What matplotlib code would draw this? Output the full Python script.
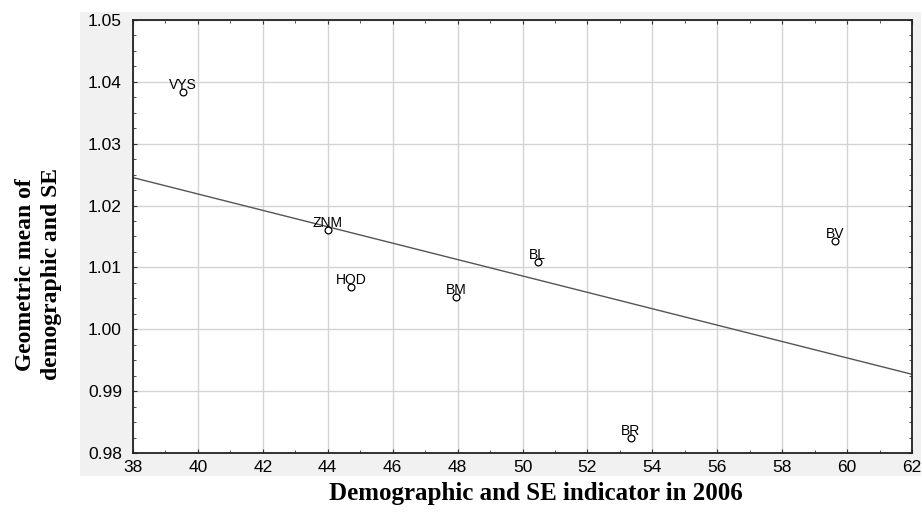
import matplotlib.pyplot as plt
import matplotlib.patches as mpatches
from matplotlib.ticker import MultipleLocator
import numpy as np

regions = ['VYS', 'ZNM', 'HOD', 'BM', 'BL', 'BR', 'BV']
indicator_2006 = [39.53, 44.0, 44.72, 47.95, 50.47, 53.33, 59.63]
geo_mean = [1.0384, 1.0161, 1.0069, 1.0053, 1.0108, 0.9824, 1.0142]

x = np.array(indicator_2006)
y = np.array(geo_mean)
slope, intercept = np.polyfit(x, y, 1)

fig = plt.figure(figsize=(9.22, 5.13), dpi=100)
# grey panel behind the plot area
fig.patches.append(mpatches.Rectangle((80 / 922, 1 - 476 / 513), 841 / 922, 464 / 513,
                                      transform=fig.transFigure, facecolor='#f1f1f1',
                                      edgecolor='none', zorder=-5))
ax = fig.add_axes([133 / 922, 1 - 453 / 513, 779 / 922, 433 / 513])
ax.set_facecolor('white')

ax.set_xlim(38, 62)
ax.set_ylim(0.98, 1.05)
ax.xaxis.set_major_locator(MultipleLocator(2))
ax.xaxis.set_minor_locator(MultipleLocator(1))
ax.yaxis.set_major_locator(MultipleLocator(0.01))
ax.yaxis.set_minor_locator(MultipleLocator(0.0025))
ax.yaxis.set_major_formatter(plt.FormatStrFormatter('%.2f'))
ax.grid(True, which='major', color='#d4d4d4', linewidth=1.0)
ax.set_axisbelow(True)
ax.tick_params(which='both', direction='in', top=True, right=True, colors='#333333',
               labelcolor='black', labelsize=12.5)
ax.tick_params(which='major', length=3)
ax.tick_params(which='minor', length=2)
ax.tick_params(axis='x', pad=5)
ax.tick_params(axis='y', pad=8)
for lbl in ax.get_xticklabels() + ax.get_yticklabels():
    lbl.set_family('Liberation Sans')
for s in ax.spines.values():
    s.set_linewidth(1.3)
    s.set_color('#222222')

xs = np.array([38, 62])
ax.plot(xs, intercept + slope * xs, color='#555555', linewidth=1.0, zorder=2)

ax.scatter(x, y, s=24, facecolors='white', edgecolors='black', linewidths=0.9, zorder=3)
for name, xi, yi in zip(regions, x, y):
    ax.annotate(name, (xi, yi), xytext=(0, 0), textcoords='offset points',
                ha='center', va='bottom', fontsize=10, family='Liberation Sans')

ax.set_xlabel('Demographic and SE indicator in 2006', family='Liberation Serif',
              fontweight='bold', fontsize=18)
ax.xaxis.set_label_coords(0.517, -0.068)
ax.set_ylabel('Geometric mean of\ndemographic and SE', family='Liberation Serif',
              fontweight='bold', fontsize=17, linespacing=1.3)
ax.yaxis.set_label_coords(-0.091, 0.413)

fig.savefig('out.png', dpi=100)
